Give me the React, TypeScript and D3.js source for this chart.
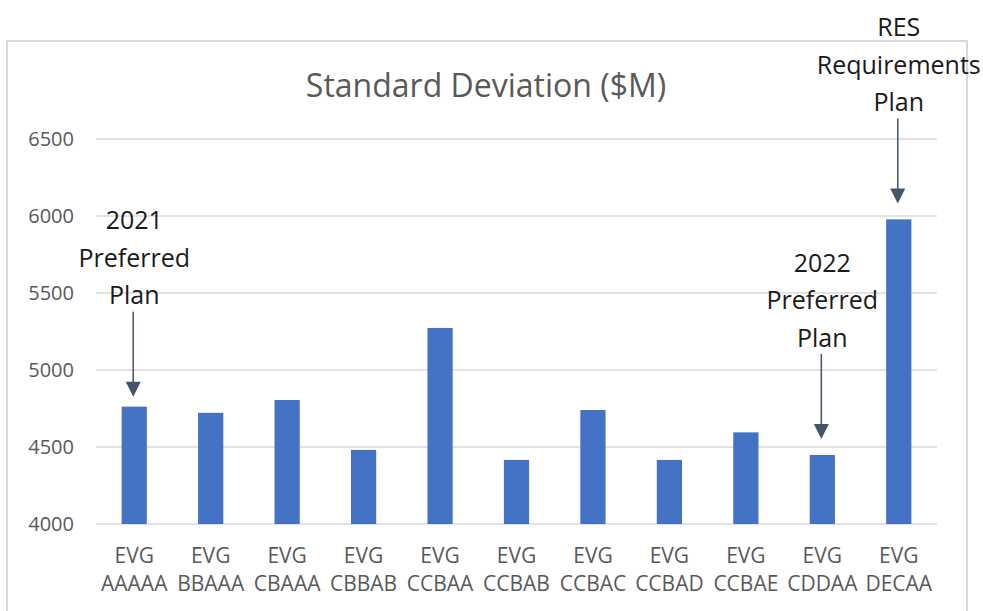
import React from "react";
import * as d3 from "d3";

const categories = ["AAAAA", "BBAAA", "CBAAA", "CBBAB", "CCBAA", "CCBAB", "CCBAC", "CCBAD", "CCBAE", "CDDAA", "DECAA"];
const prefix = "EVG";
const values = [4762, 4722, 4805, 4481, 5273, 4416, 4740, 4416, 4595, 4448, 5978];
const yTicks = [4000, 4500, 5000, 5500, 6000, 6500];
const title = "Standard Deviation ($M)";
const annotations = [
  { target: "AAAAA", lines: ["2021", "Preferred", "Plan"], gap: 10 },
  { target: "CDDAA", lines: ["2022", "Preferred", "Plan"], gap: 16 },
  { target: "DECAA", lines: ["RES", "Requirements", "Plan"], gap: 16 },
];

const W = 983, H = 611;
const plot = { left: 96, right: 937, top: 139, bottom: 524 };
const FONT = "'Open Sans', 'Segoe UI', sans-serif";

export default function App() {
  const x = d3.scaleBand<string>().domain(categories).range([plot.left, plot.right]).paddingInner(0.67).paddingOuter(0.335);
  const y = d3.scaleLinear().domain([4000, 6500]).range([plot.bottom, plot.top]);
  const valueOf = (c: string) => values[categories.indexOf(c)];
  const arrowLen = 85;
  const head = 15;
  return (
    <svg width={W} height={H} style={{ position: "absolute", left: 0, top: 0, background: "#fff" }}>
      <rect x={7} y={41} width={960} height={620} fill="#fff" stroke="#d9d9d9" strokeWidth={2} />
      <text x={486} y={86} dy="0.35em" textAnchor="middle" fontFamily={FONT} fontSize={32} fill="#595959">{title}</text>
      {yTicks.map((t) => (
        <g key={t}>
          <line x1={plot.left} x2={plot.right} y1={y(t)} y2={y(t)} stroke="#d9d9d9" strokeWidth={1.5} />
          <text x={74} y={y(t)} dy="0.35em" textAnchor="end" fontFamily={FONT} fontSize={20} fill="#595959">{t}</text>
        </g>
      ))}
      {categories.map((c, i) => (
        <rect key={c} x={x(c)} y={y(values[i])} width={x.bandwidth()} height={y(4000) - y(values[i])} fill="#4472C4" />
      ))}
      {categories.map((c) => (
        <text key={c} x={(x(c) as number) + x.bandwidth() / 2} textAnchor="middle" fontFamily={FONT} fontSize={21} fill="#595959">
          <tspan x={(x(c) as number) + x.bandwidth() / 2} y={556} dy="0.35em">{prefix}</tspan>
          <tspan x={(x(c) as number) + x.bandwidth() / 2} y={584} dy="0.35em">{c}</tspan>
        </text>
      ))}
      {annotations.map((a) => {
        const cx = (x(a.target) as number) + x.bandwidth() / 2 - 1;
        const tip = y(valueOf(a.target)) - a.gap;
        const start = tip - arrowLen;
        const n = a.lines.length;
        return (
          <g key={a.target}>
            <line x1={cx} x2={cx} y1={start} y2={tip - head + 1} stroke="#44546A" strokeWidth={1.5} />
            <path d={`M${cx - 7.5},${tip - head}L${cx + 7.5},${tip - head}L${cx},${tip}Z`} fill="#44546A" />
            {a.lines.map((l, k) => (
              <text key={k} x={cx + 1} y={start - 16 - (n - 1 - k) * 37.5} dy="0.35em" textAnchor="middle" fontFamily={FONT} fontSize={25} fill="#1a1a1a">{l}</text>
            ))}
          </g>
        );
      })}
    </svg>
  );
}
